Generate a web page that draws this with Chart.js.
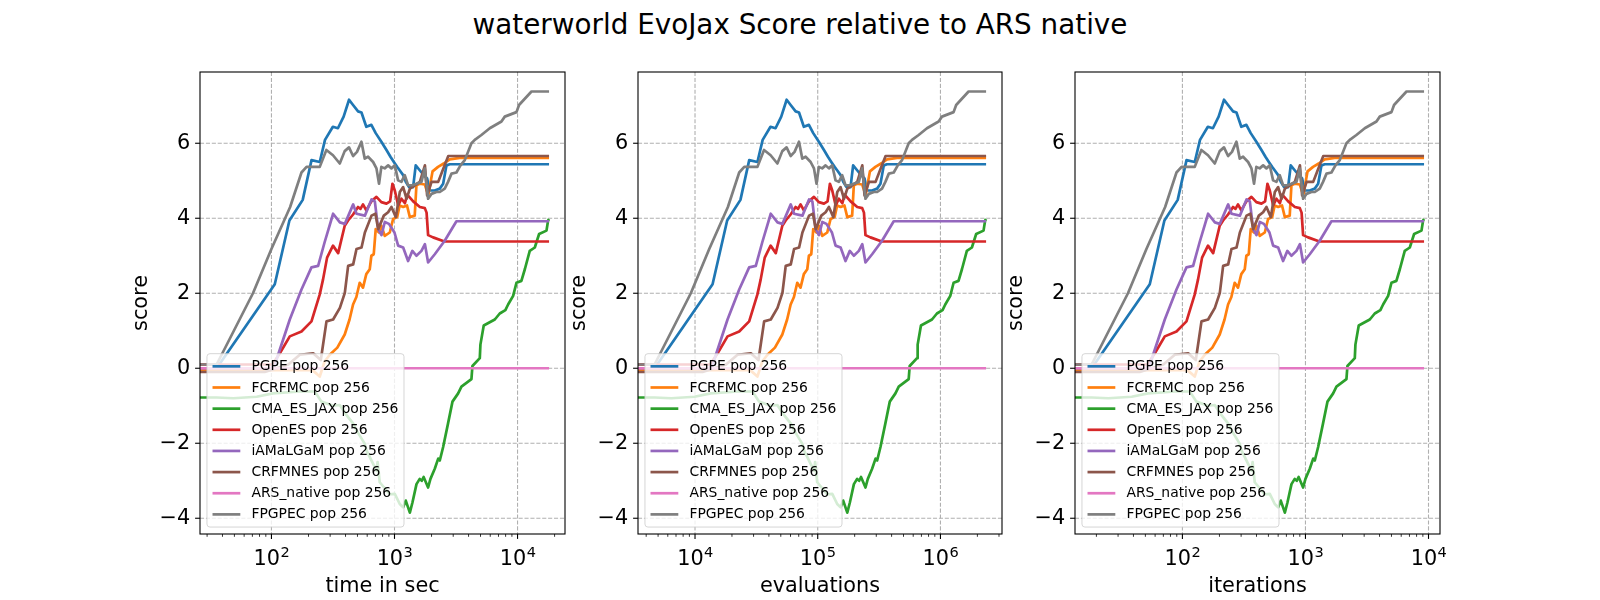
<!DOCTYPE html>
<html>
<head>
<meta charset="utf-8">
<title>waterworld EvoJax Score relative to ARS native</title>
<script src="https://cdn.jsdelivr.net/npm/chart.js"></script>
<style>
  html, body { margin: 0; padding: 0; background: #fff; }
  #fig { position: relative; width: 1600px; height: 600px; overflow: hidden; font-family: "DejaVu Sans", sans-serif; }
  #suptitle { position: absolute; left: 0; top: 11px; width: 1600px; text-align: center; font-size: 27.8px; line-height: 1; color: #000; }
  .panel { position: absolute; top: 60px; }
  .panel canvas { display: block; }
</style>
</head>
<body>
<div id="fig">
  <div id="suptitle">waterworld EvoJax Score relative to ARS native</div>
  <div class="panel" id="p0"><canvas id="c0"></canvas></div>
  <div class="panel" id="p1"><canvas id="c1"></canvas></div>
  <div class="panel" id="p2"><canvas id="c2"></canvas></div>
</div>
<script>
const seriesLabels = ['PGPE pop 256', 'FCRFMC pop 256', 'CMA_ES_JAX pop 256', 'OpenES pop 256',
  'iAMaLGaM pop 256', 'CRFMNES pop 256', 'ARS_native pop 256', 'FPGPEC pop 256'];
const seriesColors = ['#1f77b4', '#ff7f0e', '#2ca02c', '#d62728', '#9467bd', '#8c564b', '#e377c2', '#7f7f7f'];

// [iteration, score relative to ARS native]
// first pair = start of the run, it sits left of the log axis so the line enters flat
const pgpe = [[1, 0.0], [18.3, 0.0], [54.3, 2.24], [71.4, 3.94], [91.6, 4.49], [108, 5.55], [126, 5.50],
  [139, 6.09], [161, 6.44], [177, 6.40], [197, 6.71], [218, 7.16], [235, 7.02], [258, 6.85], [275, 6.82],
  [301, 6.44], [331, 6.49], [359, 6.27], [399, 6.04], [439, 5.82], [473, 5.64], [504, 5.50], [536, 5.37],
  [562, 5.28], [600, 5.15], [630, 4.97], [670, 4.83], [723, 4.83], [759, 5.41], [818, 5.28], [883, 5.15],
  [940, 5.06], [986, 4.74], [1084, 4.74], [1191, 4.79], [1268, 4.92], [1349, 5.41], [1435, 5.44], [9200, 5.44]];
const fcrfmc = [[1, -0.05], [18.3, -0.05], [60, -0.05], [110, -0.05], [126, -0.22], [138, 0.18], [152, 0.36],
  [175, 0.55], [201, 0.9], [220, 1.3], [235, 1.7], [250, 1.9], [266, 2.28], [283, 2.15], [301, 2.51],
  [321, 2.64], [331, 3.0], [346, 3.04], [359, 3.71], [382, 3.62], [399, 3.80], [425, 3.53], [467, 3.62],
  [497, 3.98], [536, 4.03], [562, 4.34], [600, 4.30], [645, 4.34], [680, 4.03], [745, 4.07], [769, 4.88],
  [818, 4.92], [900, 4.90], [960, 4.62], [1040, 5.25], [1153, 5.37], [1282, 5.46], [1435, 5.57],
  [1730, 5.61], [9200, 5.61]];
const cmaEsJax = [[1, -0.78], [18.3, -0.78], [25, -0.80], [38.7, -0.76], [52.5, -0.67], [86.7, -0.62],
  [114.8, -0.62], [130, -0.89], [161.8, -1.0], [183, -0.98], [208, -1.25], [235, -1.47], [250, -1.65],
  [292, -2.01], [302, -2.19], [342, -2.55], [365, -2.73], [372, -2.5], [387, -3.04], [467, -3.36],
  [513, -3.35], [563, -3.62], [600, -3.71], [630, -3.53], [680, -3.85], [714, -3.58], [770, -3.09],
  [818, -2.95], [850, -3.0], [880, -2.9], [957, -3.18], [1000, -2.95], [1084, -2.68], [1156, -2.41],
  [1191, -2.46], [1268, -2.10], [1390, -1.47], [1510, -0.89], [1679, -0.67], [1786, -0.49], [2153, -0.29],
  [2193, 0.06], [2518, 0.27], [2547, 0.63], [2710, 1.14], [3334, 1.30], [3656, 1.46], [4064, 1.55],
  [4276, 1.70], [4699, 1.93], [5000, 2.28], [5483, 2.33], [5848, 2.64], [6412, 3.13], [7047, 3.22],
  [7638, 3.58], [8770, 3.67], [9036, 3.94], [9200, 3.98]];
const openEs = [[1, 0.1], [18.3, 0.1], [52, 0.1], [59.7, 0.4], [71.9, 0.85], [89.5, 0.98], [107.9, 1.25],
  [126, 1.97], [134, 2.37], [144.5, 2.95], [161.4, 3.27], [177.8, 3.07], [201, 3.8], [214, 3.94],
  [235, 4.1], [258, 4.30], [270, 4.25], [283, 4.37], [301, 4.21], [331, 4.45], [364, 4.57], [399, 4.43],
  [439, 4.39], [470, 4.45], [491, 4.92], [513, 4.74], [547, 4.34], [581, 4.52], [620, 4.40], [647, 4.63],
  [724, 4.45], [820, 4.30], [900, 4.27], [930, 4.15], [957, 3.55], [1050, 3.49], [1300, 3.38], [9200, 3.38]];
const iamalgam = [[1, 0.0], [18.3, 0.0], [50, 0.0], [54, 0.05], [57.8, 0.36], [71.9, 1.30], [89.5, 2.10],
  [107.9, 2.69], [122.2, 2.73], [138, 3.36], [161.8, 4.12], [183.6, 3.89], [201.4, 3.85], [235.5, 4.37],
  [250.6, 4.12], [293.1, 4.07], [331.9, 4.50], [353.2, 4.45], [375.8, 3.71], [399.9, 3.55], [425.6, 3.90],
  [460, 3.85], [510, 3.62], [546, 3.27], [600, 3.22], [658, 2.86], [713, 3.13], [769, 3.00], [845, 3.13],
  [901.6, 3.31], [957, 2.82], [1084, 3.04], [1306, 3.40], [1626, 3.92], [9200, 3.92]];
const crfmnes = [[1, -0.1], [18.3, -0.1], [45, -0.1], [70, 0.1], [86.7, 0.36], [111.4, 0.40], [128.5, 0.22],
  [142.9, 1.25], [161.8, 1.30], [183.6, 1.61], [201.4, 2.01], [214.3, 2.73], [235.5, 2.77], [250.6, 3.18],
  [275.4, 3.22], [293.1, 3.62], [331.9, 4.07], [357.3, 4.12], [375.8, 3.71], [417.8, 4.07], [452.9, 4.16],
  [481.9, 4.30], [523.6, 4.03], [563.6, 4.70], [599.8, 4.83], [639.7, 4.52], [680.8, 4.79], [820.3, 4.97],
  [901.6, 5.41], [939.7, 4.61], [1021, 4.97], [1156, 4.97], [1271, 5.32], [1396, 5.66], [9200, 5.66]];
const arsNative = [[1, 0], [9200, 0]];
const fpgpec = [[1, 0.1], [18.3, 0.1], [36.1, 2.0], [51, 3.18], [72.4, 4.3], [89.5, 5.22], [98.4, 5.37],
  [126, 5.37], [142.6, 5.82], [161.4, 5.68], [183.2, 5.46], [200.9, 5.79], [217.8, 5.89], [235, 5.66],
  [252.9, 5.77], [274.8, 6.04], [292.4, 5.59], [311.2, 5.64], [342, 5.50], [364, 5.33], [382, 4.92],
  [399, 5.37], [424.6, 5.33], [452.9, 5.41], [481.9, 5.33], [512.9, 5.41], [545.8, 5.01], [580.8, 4.97],
  [618, 5.15], [658, 4.88], [713, 4.88], [769, 4.92], [845, 4.97], [899, 5.33], [957, 4.52], [1019, 4.65],
  [1119, 4.70], [1191, 4.70], [1306, 4.79], [1390, 4.97], [1483, 5.19], [1626, 5.22], [1754, 5.41],
  [1901, 5.55], [2153, 6.0], [2291, 6.09], [2594, 6.22], [3034, 6.40], [3776, 6.58], [4018, 6.71],
  [5000, 6.83], [5248, 7.02], [6622, 7.38], [9200, 7.38]];

const allSeries = [pgpe, fcrfmc, cmaEsJax, openEs, iamalgam, crfmnes, arsNative, fpgpec];

const popSize = 256;              // evaluations per iteration
const secondsPerIteration = 1.96;
const iterLimits = [13.4, 12400];
const yLimits = [-4.42, 7.90];
const yTicks = [-4, -2, 0, 2, 4, 6];
const timeTicks = [1e2, 1e3, 1e4];
const evalTicks = [1e4, 1e5, 1e6];
const iterTicks = [1e2, 1e3, 1e4];

const panels = [
  { left: 200, width: 365, xTitle: 'time in sec', factor: secondsPerIteration, ticks: timeTicks },
  { left: 638, width: 364, xTitle: 'evaluations', factor: popSize, ticks: evalTicks },
  { left: 1075, width: 365, xTitle: 'iterations', factor: 1, ticks: iterTicks },
];

const FONT = '"DejaVu Sans"';
const TICK_FS = 20.8;
Chart.defaults.font.family = FONT;
Chart.defaults.color = '#000';

// grid below the lines, spines + tick marks + 10^n labels above (like matplotlib)
const axesFrame = {
  id: 'axesFrame',
  beforeDatasetsDraw(chart) {
    const { ctx, chartArea: a, scales: { x, y } } = chart;
    ctx.save();
    ctx.strokeStyle = '#b0b0b0';
    ctx.lineWidth = 1.1;
    ctx.setLineDash([4.1, 1.8]);
    x.ticks.forEach(t => {
      const px = x.getPixelForValue(t.value);
      ctx.beginPath(); ctx.moveTo(px, a.top); ctx.lineTo(px, a.bottom); ctx.stroke();
    });
    y.ticks.forEach(t => {
      const py = y.getPixelForValue(t.value);
      ctx.beginPath(); ctx.moveTo(a.left, py); ctx.lineTo(a.right, py); ctx.stroke();
    });
    ctx.restore();
  },
  afterDatasetsDraw(chart) {
    const { ctx, chartArea: a, scales: { x, y } } = chart;
    ctx.save();
    ctx.strokeStyle = '#000';
    ctx.lineWidth = 1.1;
    ctx.strokeRect(a.left, a.top, a.right - a.left, a.bottom - a.top);
    x.ticks.forEach(t => {
      const px = x.getPixelForValue(t.value);
      ctx.beginPath(); ctx.moveTo(px, a.bottom); ctx.lineTo(px, a.bottom + 4.9); ctx.stroke();
    });
    y.ticks.forEach(t => {
      const py = y.getPixelForValue(t.value);
      ctx.beginPath(); ctx.moveTo(a.left - 4.9, py); ctx.lineTo(a.left, py); ctx.stroke();
    });
    // minor log ticks
    ctx.lineWidth = 0.8;
    const d0 = Math.floor(Math.log10(x.min)), d1 = Math.ceil(Math.log10(x.max));
    for (let d = d0; d <= d1; d++) {
      for (let m = 2; m < 10; m++) {
        const v = m * Math.pow(10, d);
        if (v < x.min || v > x.max) continue;
        const px = x.getPixelForValue(v);
        ctx.beginPath(); ctx.moveTo(px, a.bottom); ctx.lineTo(px, a.bottom + 2.8); ctx.stroke();
      }
    }
    // 10^n labels with a raised, smaller exponent
    ctx.fillStyle = '#000';
    ctx.textBaseline = 'alphabetic';
    ctx.textAlign = 'left';
    const base = a.bottom + 31;
    x.ticks.forEach(t => {
      const px = x.getPixelForValue(t.value);
      const exp = String(Math.round(Math.log10(t.value)));
      ctx.font = TICK_FS + 'px ' + FONT;
      const wBase = ctx.measureText('10').width;
      ctx.font = (TICK_FS * 0.7) + 'px ' + FONT;
      const wExp = ctx.measureText(exp).width;
      const left = px - (wBase + wExp) / 2;
      ctx.font = TICK_FS + 'px ' + FONT;
      ctx.fillText('10', left, base);
      ctx.font = (TICK_FS * 0.7) + 'px ' + FONT;
      ctx.fillText(exp, left + wBase + 0.5, base - 8.3);
    });
    ctx.restore();
  }
};

// matplotlib style legend, lower left inside the axes
const legendBox = {
  id: 'legendBox',
  afterDatasetsDraw(chart) {
    const { ctx, chartArea: a } = chart;
    const items = chart.data.datasets;
    const fs = 13.9;
    ctx.save();
    ctx.font = fs + 'px ' + FONT;
    const textW = Math.max(...items.map(d => ctx.measureText(d.label).width));
    const pad = 0.4 * fs, handle = 2 * fs, gap = 0.8 * fs, rowH = 14.2, space = 0.5 * fs;
    const w = pad * 2 + handle + gap + textW;
    const h = pad * 2 + items.length * rowH + (items.length - 1) * space;
    const x0 = a.left + 0.5 * fs, y0 = a.bottom - 0.5 * fs - h;
    ctx.beginPath();
    if (ctx.roundRect) ctx.roundRect(x0, y0, w, h, 3); else ctx.rect(x0, y0, w, h);
    ctx.fillStyle = 'rgba(255,255,255,0.8)';
    ctx.fill();
    ctx.strokeStyle = 'rgba(204,204,204,0.8)';
    ctx.lineWidth = 1;
    ctx.stroke();
    items.forEach((d, i) => {
      const cy = y0 + pad + rowH / 2 + i * (rowH + space);
      ctx.strokeStyle = d.borderColor;
      ctx.lineWidth = d.borderWidth;
      ctx.beginPath(); ctx.moveTo(x0 + pad, cy); ctx.lineTo(x0 + pad + handle, cy); ctx.stroke();
      ctx.fillStyle = '#000';
      ctx.textBaseline = 'middle';
      ctx.fillText(d.label, x0 + pad + handle + gap, cy + 0.5);
    });
    ctx.restore();
  }
};

panels.forEach((p, k) => {
  const box = document.getElementById('p' + k);
  box.style.left = (p.left - 100) + 'px';
  const canvas = document.getElementById('c' + k);
  canvas.width = p.width + 112;
  canvas.height = 540;

  new Chart(canvas, {
    type: 'line',
    data: {
      datasets: allSeries.map((s, i) => ({
        label: seriesLabels[i],
        data: s.map(([it, v]) => ({ x: it * p.factor, y: v })),
        borderColor: seriesColors[i],
        backgroundColor: seriesColors[i],
        borderWidth: 2.7,
        borderJoinStyle: 'round',
        pointRadius: 0,
        tension: 0,
        fill: false,
        clip: 0,
        order: -i
      }))
    },
    options: {
      responsive: false,
      animation: false,
      events: [],
      layout: { padding: { top: 12, right: 12, bottom: 0, left: 0 } },
      plugins: { legend: { display: false }, tooltip: { enabled: false } },
      scales: {
        x: {
          type: 'logarithmic',
          min: iterLimits[0] * p.factor,
          max: iterLimits[1] * p.factor,
          afterBuildTicks: s => { s.ticks = p.ticks.map(v => ({ value: v })); },
          afterFit: s => { s.height = 66; s.paddingLeft = 0; s.paddingRight = 0; },
          grid: { display: false, drawTicks: false },
          border: { display: false },
          ticks: { display: false, autoSkip: false, maxRotation: 0, minRotation: 0 },
          title: { display: true, text: p.xTitle, font: { size: TICK_FS }, color: '#000', padding: { top: 0, bottom: 1 } }
        },
        y: {
          min: yLimits[0],
          max: yLimits[1],
          afterBuildTicks: s => { s.ticks = yTicks.map(v => ({ value: v })); },
          afterFit: s => { s.width = 100; s.paddingTop = 0; s.paddingBottom = 0; },
          grid: { display: false, drawTicks: false },
          border: { display: false },
          ticks: {
            padding: 9.8, font: { size: TICK_FS }, color: '#000',
            callback: v => v < 0 ? '\u2212' + (-v) : String(v)
          },
          title: { display: true, text: 'score', font: { size: TICK_FS }, color: '#000', padding: { top: 29.5, bottom: 0 } }
        }
      }
    },
    plugins: [axesFrame, legendBox]
  });
});
</script>
</body>
</html>
